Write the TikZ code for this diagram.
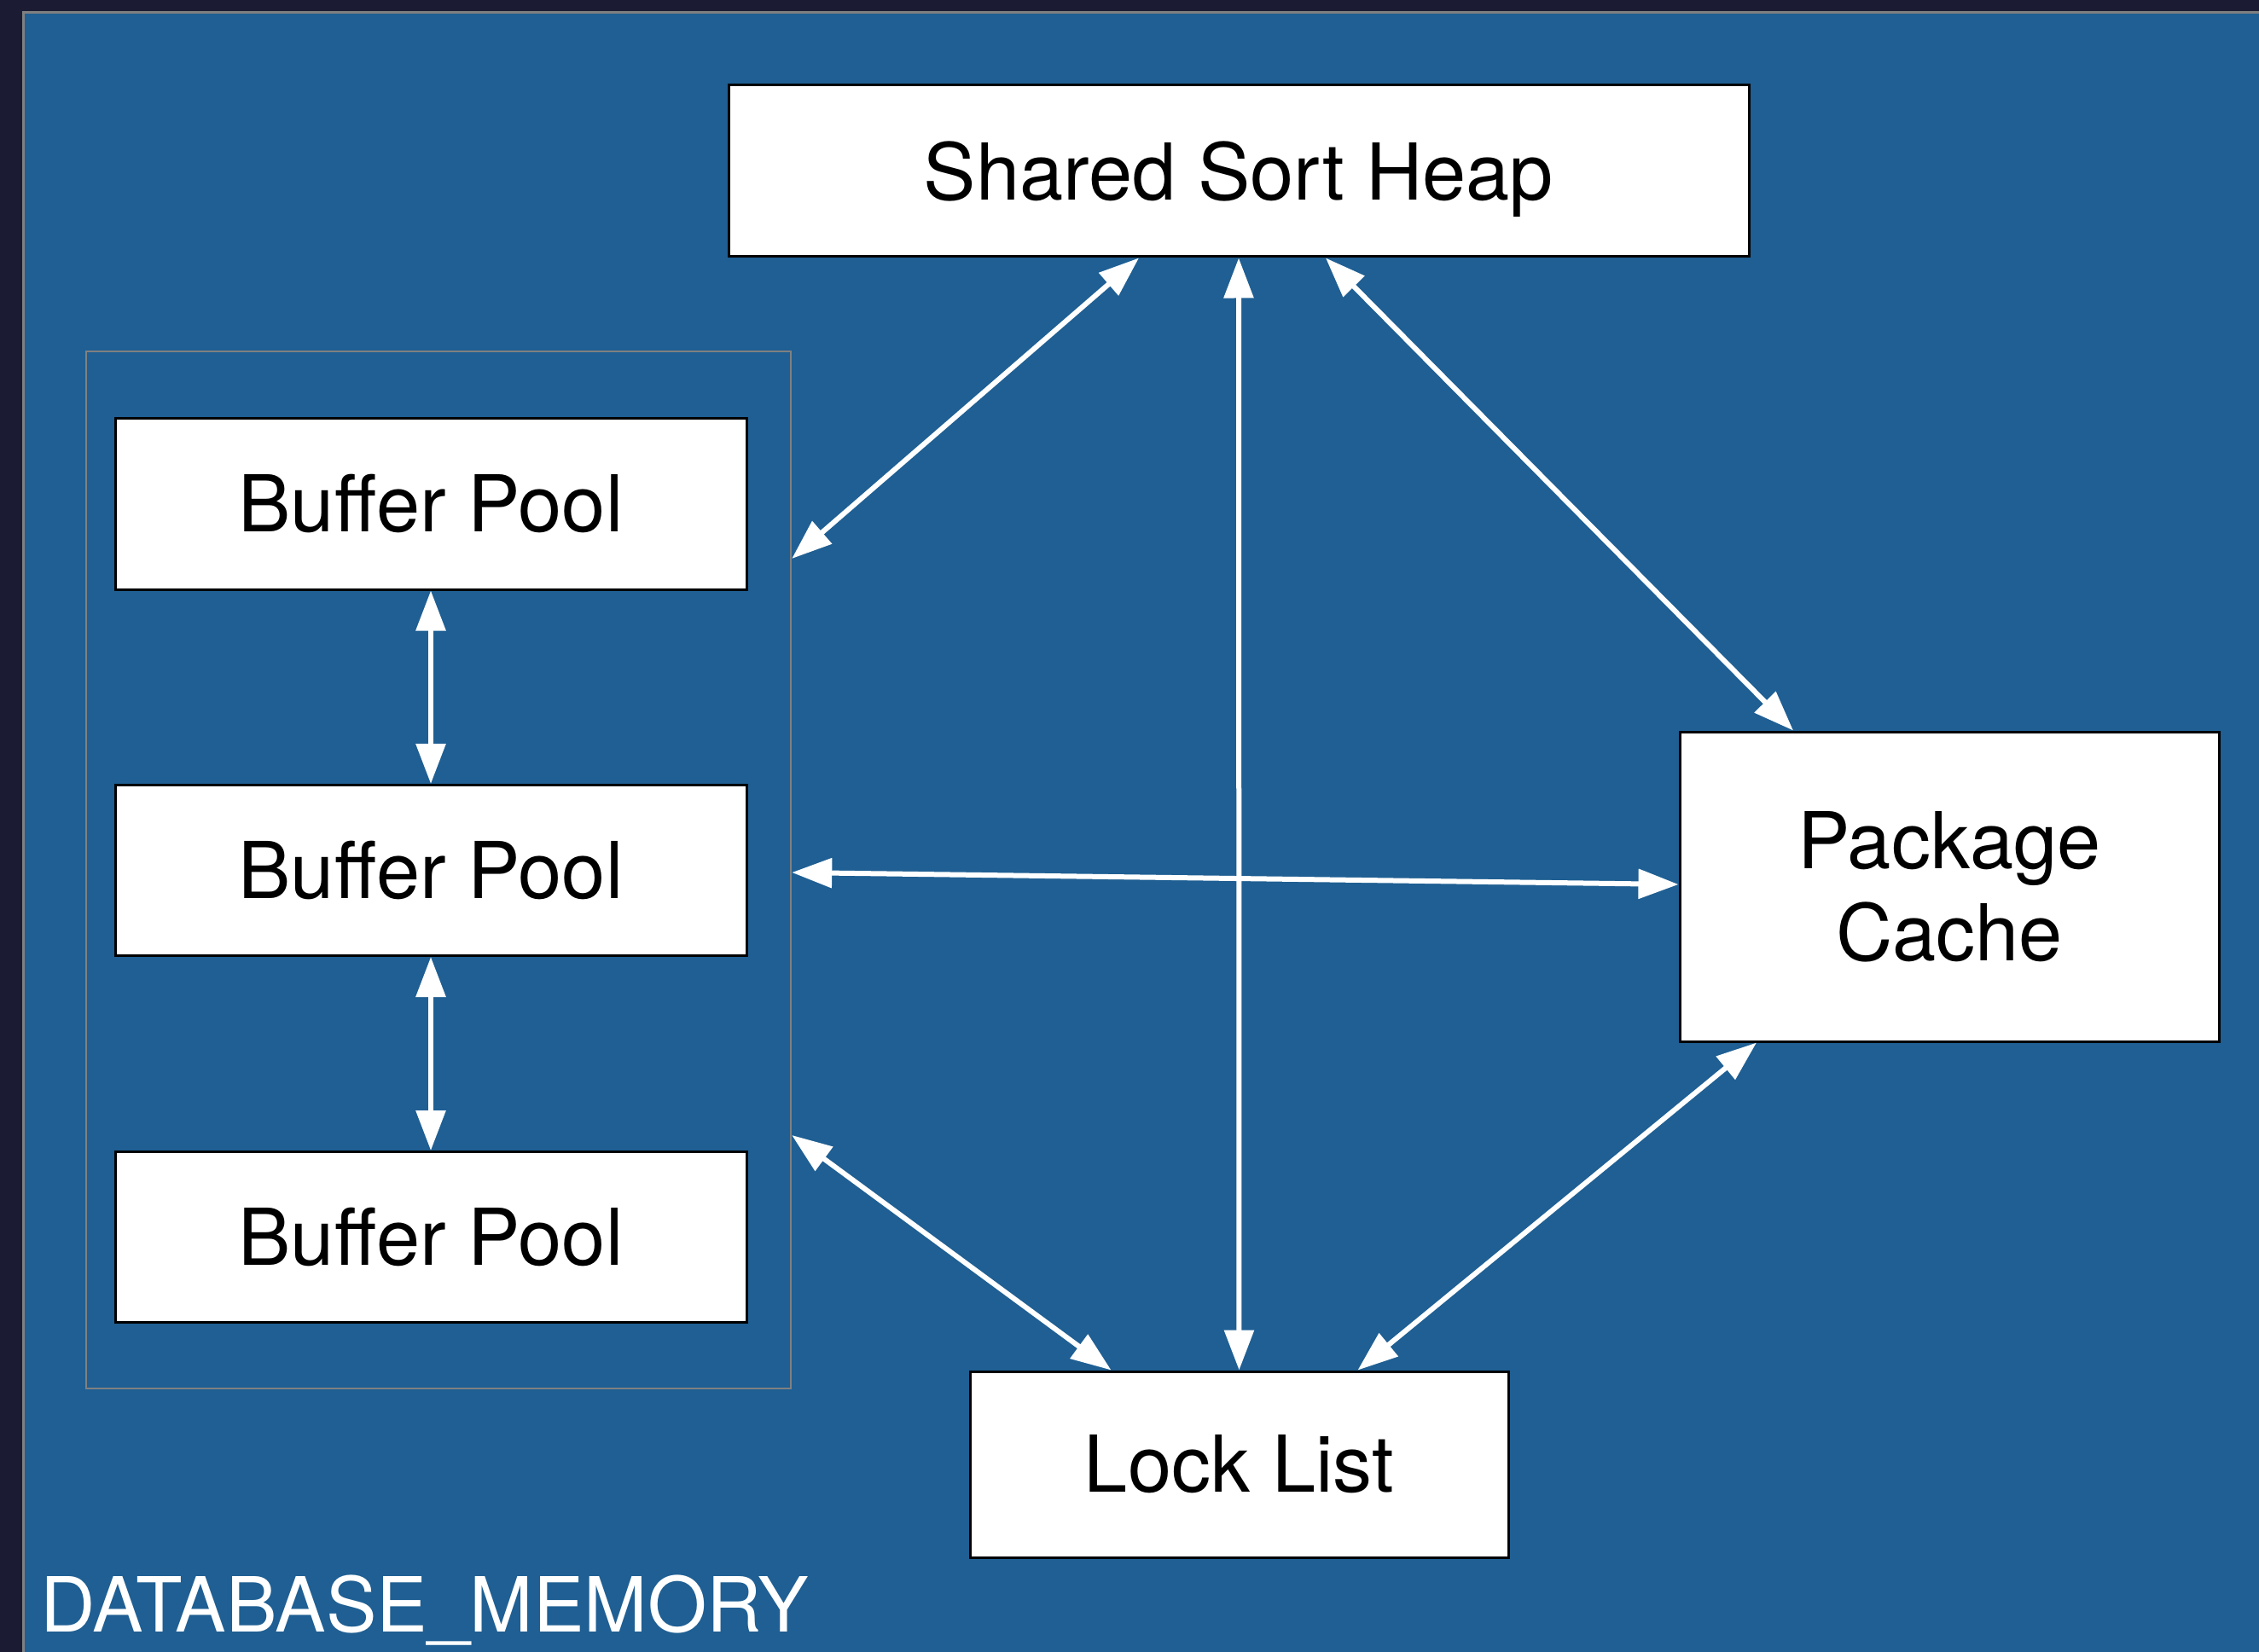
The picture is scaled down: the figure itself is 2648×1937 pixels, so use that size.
\documentclass[tikz,border=0pt]{standalone}
\usepackage{fontspec}
\setmainfont{TeX Gyre Heros}
\usetikzlibrary{arrows.meta,calc}
\definecolor{deskbg}{HTML}{1B1C33}
\definecolor{panelblue}{HTML}{1F5F93}
\definecolor{framegray}{HTML}{808080}
\begin{document}
\begin{tikzpicture}[x=0.25pt,y=-0.25pt,
  membox/.style={draw=black,line width=0.75pt,fill=white,inner sep=0pt,
    font=\fontsize{23}{27}\selectfont,align=center},
  poolframe/.style={draw=framegray,line width=0.6pt,inner sep=0pt},
  link/.style={draw=white,line width=1.5pt,
    {Triangle[length=11.75pt,width=8.5pt]}-{Triangle[length=11.75pt,width=8.5pt]}}]
\useasboundingbox (0,0) rectangle (2648,1937);
% backdrop and memory panel
\fill[deskbg] (0,0) rectangle (2648,1937);
\filldraw[fill=panelblue,draw=framegray,line width=0.75pt] (27,15) rectangle (2670,1960);

% memory areas
\node[membox,text depth=0pt,minimum width=299pt,minimum height=50.25pt] (ssh) at (1452,200.5) {Shared Sort Heap};
\node[poolframe,minimum width=206.5pt,minimum height=304pt] (pools) at (514,1020) {};
\node[membox,minimum width=185pt,minimum height=50pt] (bp1) at (505,591) {Buffer Pool};
\node[membox,minimum width=185pt,minimum height=50pt] (bp2) at (505,1020.5) {Buffer Pool};
\node[membox,minimum width=185pt,minimum height=50pt] (bp3) at (505,1450.5) {Buffer Pool};
\node[membox,minimum width=158pt,minimum height=90.75pt] (pc) at (2285,1039.5) {Package\\Cache};
\node[membox,minimum width=157.75pt,minimum height=54.5pt] (ll) at (1452.5,1717) {Lock List};
\node[anchor=base west,text=white,inner sep=0pt,font=\fontsize{22.3}{26}\selectfont] (dbm) at (47,1913) {DATABASE\_MEMORY};

% connections
\draw[link] ([xshift=-29.25pt]ssh.south) -- ([yshift=91.25pt]pools.east);
\draw[link] (ssh.south) -- (ll.north);
\draw[link] ([xshift=25.5pt]ssh.south) -- ([xshift=-45.75pt]pc.north);
\draw[link] ([yshift=-0.75pt]pools.east) -- ([yshift=0.625pt]pc.west);
\draw[link] ([yshift=-77.75pt]pools.east) -- ([xshift=-37.5pt]ll.north);
\draw[link] ([xshift=34.75pt]ll.north) -- ([xshift=-56.5pt]pc.south);
\draw[link] (bp1.south) -- (bp2.north);
\draw[link] (bp2.south) -- (bp3.north);
\end{tikzpicture}
\end{document}
